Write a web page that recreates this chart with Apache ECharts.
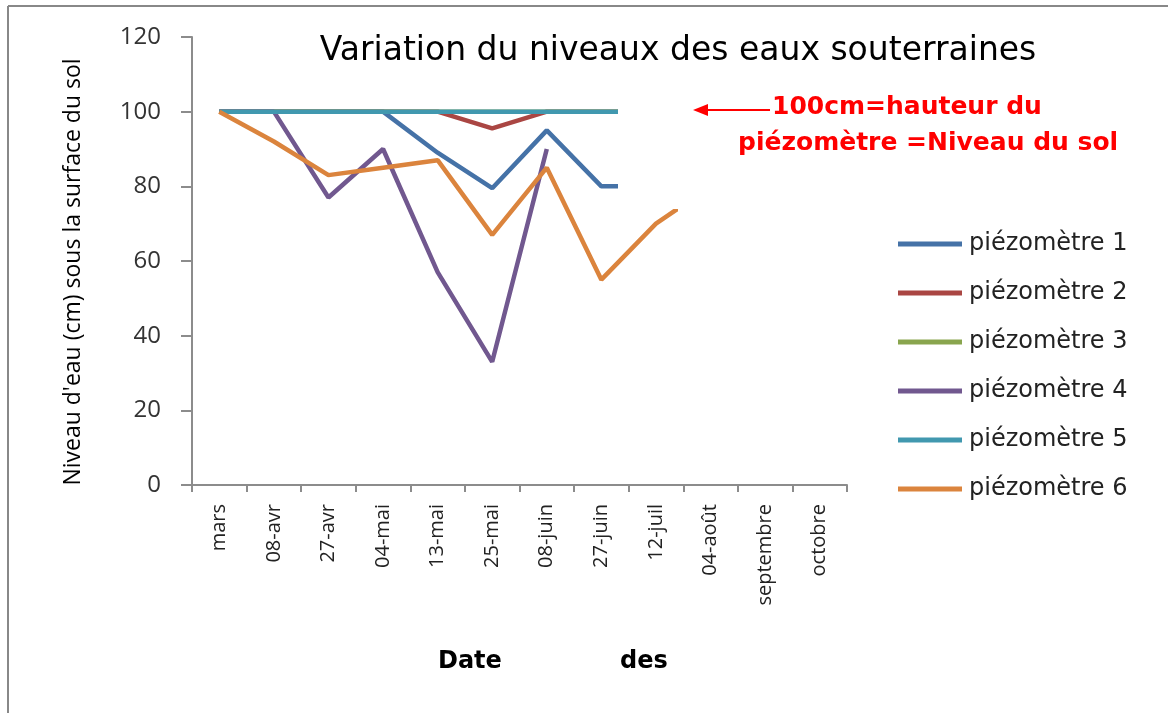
<!DOCTYPE html>
<html>
<head>
<meta charset="utf-8">
<script src="https://cdn.jsdelivr.net/npm/echarts@6/dist/echarts.min.js"></script>
<style>
  html, body { margin: 0; padding: 0; background: #fff; }
  #chart { width: 1168px; height: 713px; }
</style>
</head>
<body>
<div id="chart"></div>
<script>
// données
var dates = ['mars', '08-avr', '27-avr', '04-mai', '13-mai', '25-mai', '08-juin', '27-juin', '12-juil', '04-août', 'septembre', 'octobre'];
var piezo1 = [100, 100, 100, 100, 89, 79.5, 95, 80, 80, null, null, null];
var piezo2 = [100, 100, 100, 100, 100, 95.5, 100, 100, 100, null, null, null];
var piezo3 = [100, 100, 100, 100, 100, 100, 100, 100, 100, null, null, null];
var piezo4 = [100, 100, 77, 90, 57, 33, 90, null, null, null, null, null];
var piezo5 = [100, 100, 100, 100, 100, 100, 100, 100, 100, null, null, null];
var piezo6 = [100, 92, 83, 85, 87, 67, 85, 55, 70, 80, null, null];
var yTicks = [0, 20, 40, 60, 80, 100, 120];

var noms = ['piézomètre 1', 'piézomètre 2', 'piézomètre 3', 'piézomètre 4', 'piézomètre 5', 'piézomètre 6'];
var couleurs = ['#4572A7', '#AA4643', '#89A54E', '#71588F', '#4198AF', '#DB843D'];
var valeurs = [piezo1, piezo2, piezo3, piezo4, piezo5, piezo6];

var chart = echarts.init(document.getElementById('chart'));

var series = [];
for (var i = 0; i < noms.length; i++) {
	series.push({
		name: noms[i],
		type: 'line',
		data: valeurs[i],
		symbol: 'none',
		connectNulls: false,
		lineStyle: { width: 4.5, color: couleurs[i] },
		itemStyle: { color: couleurs[i] },
		z: 2 + i
	});
}

chart.setOption({
	animation: false,
	backgroundColor: '#fff',
	title: {
		text: 'Variation du niveaux des eaux souterraines',
		left: 673,
		top: 30,
		textAlign: 'center',
		textStyle: { fontFamily: 'DejaVu Sans', fontSize: 33, fontWeight: 'normal', color: '#000' }
	},
	grid: { left: 192, top: 37, width: 655, height: 448, containLabel: false },
	legend: {
		orient: 'vertical',
		left: 893,
		top: 225,
		z: 20,
		itemWidth: 64,
		itemHeight: 5,
		itemGap: 21,
		icon: 'rect',
		data: noms,
		textStyle: { fontFamily: 'DejaVu Sans', fontSize: 24, color: '#222', lineHeight: 28, padding: [0, 0, 0, 2] }
	},
	xAxis: {
		type: 'category',
		data: dates,
		boundaryGap: true,
		axisLine: { lineStyle: { color: '#8c8c8c', width: 2 } },
		axisTick: { show: true, length: 7, inside: false, lineStyle: { color: '#8c8c8c', width: 2 } },
		axisLabel: { rotate: 90, interval: 0, margin: 19, fontFamily: 'Open Sans', fontSize: 20, color: '#222' }
	},
	yAxis: {
		type: 'value',
		min: yTicks[0],
		max: yTicks[yTicks.length - 1],
		interval: 20,
		splitLine: { show: false },
		axisLine: { show: true, lineStyle: { color: '#8c8c8c', width: 2 } },
		axisTick: { show: true, length: 11, lineStyle: { color: '#8c8c8c', width: 2 } },
		axisLabel: { margin: 31, fontFamily: 'Open Sans', fontSize: 24, color: '#333' }
	},
	graphic: [
		// cadre
		{ type: 'line', z: 50, shape: { x1: 8, y1: 6, x2: 1168, y2: 6 }, style: { stroke: '#888', lineWidth: 2 } },
		{ type: 'line', z: 50, shape: { x1: 8, y1: 6, x2: 8, y2: 713 }, style: { stroke: '#888', lineWidth: 2 } },
		// titre de l'axe des y
		{ type: 'text', z: 30, x: 73, y: 272, rotation: Math.PI / 2,
		  style: { text: "Niveau d'eau (cm) sous la surface du sol", fill: '#000', font: '500 23px "Open Sans"', align: 'center', verticalAlign: 'middle' } },
		// zones blanches qui cachent la fin des courbes
		{ type: 'rect', z: 10, shape: { x: 618, y: 76, width: 530, height: 133 }, style: { fill: '#fff' } },
		{ type: 'rect', z: 10, shape: { x: 678, y: 209, width: 470, height: 270 }, style: { fill: '#fff' } },
		// annotation rouge
		{ type: 'line', z: 30, shape: { x1: 703, y1: 110, x2: 770, y2: 110 }, style: { stroke: '#f00', lineWidth: 2 } },
		{ type: 'polygon', z: 30, shape: { points: [[693, 110], [708, 104], [708, 116]] }, style: { fill: '#f00' } },
		{ type: 'text', z: 30, left: 772, top: 95, style: { text: '100cm=hauteur du', fill: '#f00', font: 'bold 25px "DejaVu Sans"' } },
		{ type: 'text', z: 30, left: 738, top: 131, style: { text: 'piézomètre =Niveau du sol', fill: '#f00', font: 'bold 25px "DejaVu Sans"' } },
		// titre de l'axe des x
		{ type: 'text', z: 30, left: 438, top: 650, style: { text: 'Date', fill: '#000', font: 'bold 24px "DejaVu Sans"' } },
		{ type: 'text', z: 30, left: 620, top: 650, style: { text: 'des', fill: '#000', font: 'bold 24px "DejaVu Sans"' } }
	],
	series: series
});
</script>
</body>
</html>
